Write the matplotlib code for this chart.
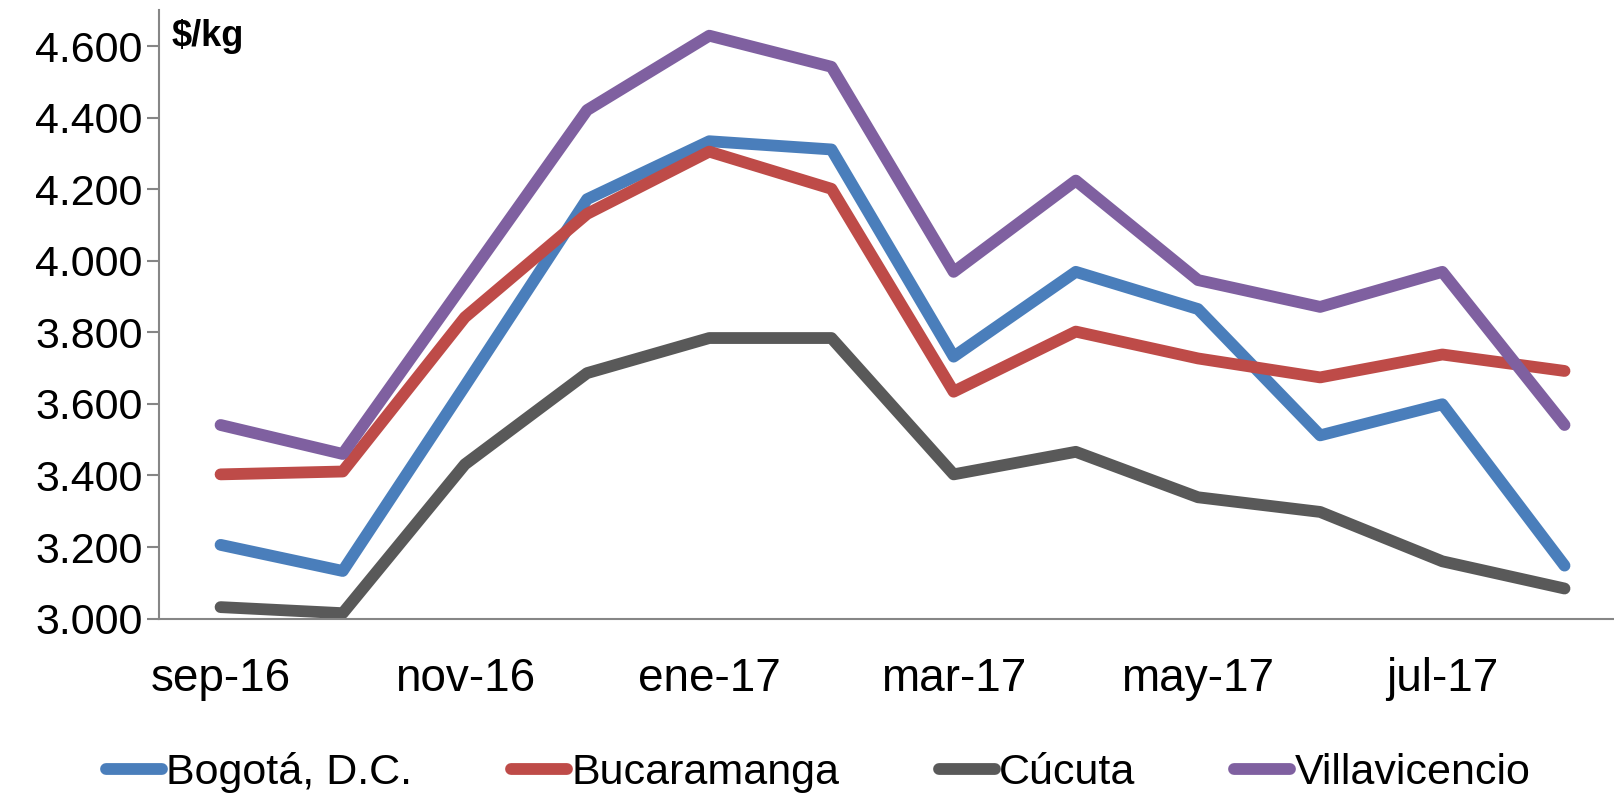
import matplotlib
matplotlib.use("Agg")
import matplotlib.pyplot as plt
from matplotlib.ticker import FuncFormatter

plt.rcParams['font.family'] = ['Liberation Sans', 'DejaVu Sans']

#%% data (precio mayorista, $/kg)
meses = ['sep-16', 'oct-16', 'nov-16', 'dic-16', 'ene-17', 'feb-17',
         'mar-17', 'abr-17', 'may-17', 'jun-17', 'jul-17', 'ago-17']

bogota = [3206, 3133, 3650, 4172, 4334, 4311, 3732, 3969, 3865, 3512, 3599, 3148]
bucaramanga = [3403, 3411, 3842, 4131, 4305, 4201, 3634, 3802, 3727, 3674, 3738, 3692]
cucuta = [3032, 3015, 3431, 3686, 3784, 3784, 3403, 3466, 3339, 3298, 3160, 3084]
villavicencio = [3541, 3460, 3940, 4421, 4629, 4542, 3969, 4224, 3946, 3871, 3969, 3541]

series = {'Bogotá, D.C.': (bogota, '#4A7EBB'),
          'Bucaramanga': (bucaramanga, '#BE4B48'),
          'Cúcuta': (cucuta, '#595959'),
          'Villavicencio': (villavicencio, '#7F60A0')}

#%% plot
fig = plt.figure(figsize=(16.14, 7.96), dpi=100)
ax = fig.add_axes([0.0988, 0.2229, 0.9012, 0.7642])

x = list(range(len(meses)))
for nombre, (valores, color) in series.items():
    ax.plot(x, valores, color=color, lw=8.5, label=nombre,
            solid_capstyle='round', solid_joinstyle='round')

ax.set_xlim(-0.5, 11.405)
ax.set_ylim(3000, 4700)
ax.set_yticks(range(3000, 4601, 200))
ax.yaxis.set_major_formatter(FuncFormatter(lambda v, p: f'{v:,.0f}'.replace(',', '.')))
ax.set_xticks(x[::2])
ax.set_xticklabels(meses[::2])

for s in ['top', 'right']:
    ax.spines[s].set_visible(False)
for s in ['left', 'bottom']:
    ax.spines[s].set_color('#868686')
    ax.spines[s].set_linewidth(1.5)

ax.tick_params(axis='y', length=9, width=1.5, color='#868686', labelsize=31, pad=3)
ax.tick_params(axis='x', length=0, labelsize=33, pad=28)

ax.text(0.008, 0.985, '$/kg', transform=ax.transAxes, fontsize=26,
        fontweight='bold', va='top', ha='left')

fig.legend(loc='center', bbox_to_anchor=(0.507, 0.03), ncol=4, frameon=False,
           fontsize=31, handlelength=1.3, handletextpad=0.1, columnspacing=2.3)

fig.savefig('out.png', dpi=100)
